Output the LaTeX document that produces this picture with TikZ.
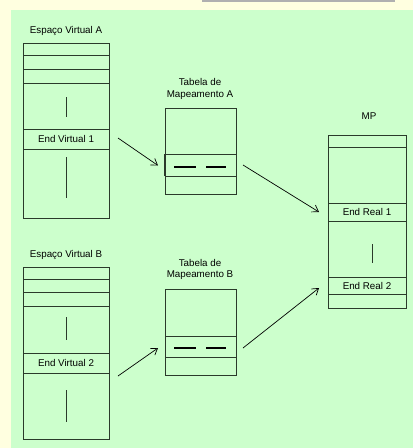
\documentclass[tikz,border=0pt]{standalone}
\usepackage{fontspec}
\setmainfont{Liberation Sans}
\usetikzlibrary{arrows.meta}
\definecolor{cream}{HTML}{FFFFE0}
\definecolor{pale}{HTML}{CCFFCC}
\definecolor{bar}{HTML}{B0B0B0}
\definecolor{ln}{HTML}{2A3A2A}
\tikzset{
  box/.style={draw=ln, line width=0.9pt},
  row/.style={draw=ln, line width=0.8pt},
  gap/.style={draw=ln, line width=0.7pt},
  lbl/.style={font=\fontsize{9.8}{11.5}\selectfont, inner sep=0pt, align=center},
  conn/.style={draw=black, line width=0.7pt, -{Straight Barb[length=6pt,width=8pt]}},
}
\begin{document}
\begin{tikzpicture}[x=1pt,y=-1pt]
\useasboundingbox (0,0) rectangle (413,448);
\fill[cream] (0,0) rectangle (413,448);
\fill[pale] (11,10) rectangle (413,448);
\fill[bar] (202,0) rectangle (395,2);

% Virtual A
\node[lbl] (lva) at (66,31) {Espaço Virtual A};
\draw[box] (23,43) rectangle (109,218);
\foreach \y in {55,69,83,129,149} \draw[row] (23,\y) -- (109,\y);
\draw[gap] (66,97) -- (66,117);
\draw[gap] (66,157) -- (66,198);
\node[lbl] (ev1) at (66,139) {End Virtual 1};

% Virtual B
\node[lbl] (lvb) at (66,255) {Espaço Virtual B};
\draw[box] (23,267) rectangle (109,439);
\foreach \y in {279,292,306,353,373} \draw[row] (23,\y) -- (109,\y);
\draw[gap] (66,317) -- (66,340);
\draw[gap] (66,390) -- (66,422);
\node[lbl] (ev2) at (66,363) {End Virtual 2};

% Table A
\node[lbl] (lta) at (200,89) {Tabela de\\Mapeamento A};
\draw[box] (165,108) rectangle (236,194);
\draw[row] (165,154) -- (236,154);
\draw[row] (165,176) -- (236,176);
\draw[ln, line width=1.4pt] (165,154) -- (165,176);
\draw[black, line width=2.2pt] (174,167) -- (196,167);
\draw[black, line width=1.4pt] (206,167) -- (226,167);

% Table B
\node[lbl] (ltb) at (200,269.5) {Tabela de\\Mapeamento B};
\draw[box] (165,289) rectangle (236,375);
\draw[row] (165,336) -- (236,336);
\draw[row] (165,357) -- (236,357);
\draw[black, line width=2.2pt] (174,348) -- (196,348);
\draw[black, line width=1.4pt] (206,348) -- (226,348);

% MP
\node[lbl] (lmp) at (369,116) {MP};
\draw[box] (328,135) rectangle (406,308);
\foreach \y in {147,203,221,277,294} \draw[row] (328,\y) -- (406,\y);
\draw[gap] (372,244) -- (372,263);
\node[lbl] (er1) at (367,212) {End Real 1};
\node[lbl] (er2) at (367,285.5) {End Real 2};

% Connectors
\coordinate (a1s) at (118,138);
\coordinate (a1e) at (158,165.5);
\coordinate (a2s) at (243,165);
\coordinate (a2e) at (319,212);
\coordinate (b1s) at (118,376);
\coordinate (b1e) at (158,348);
\coordinate (b2s) at (243,348);
\coordinate (b2e) at (319,288);
\draw[conn] (a1s) -- (a1e);
\draw[conn] (a2s) -- (a2e);
\draw[conn] (b1s) -- (b1e);
\draw[conn] (b2s) -- (b2e);
\end{tikzpicture}
\end{document}
